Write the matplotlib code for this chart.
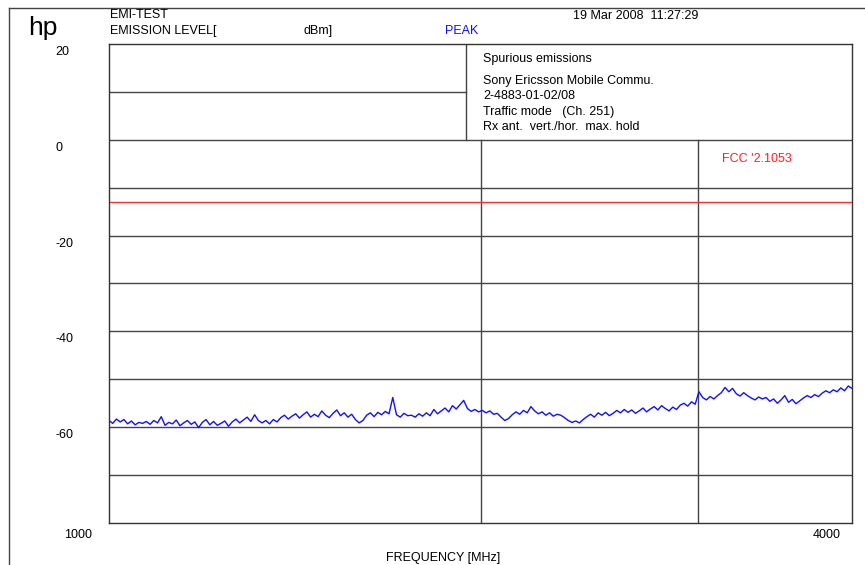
import matplotlib
matplotlib.use("Agg")
import matplotlib.pyplot as plt
from matplotlib.lines import Line2D
import numpy as np

plt.rcParams['font.family'] = ['Liberation Sans', 'DejaVu Sans']

level = [
    -58.6, -59.2, -58.3, -58.9, -58.4, -59.3, -58.7, -59.5, -59.0, -59.2,
    -58.8, -59.4, -58.6, -59.1, -57.8, -59.6, -59.0, -59.3, -58.5, -59.7,
    -59.1, -58.6, -59.4, -58.9, -60.1, -59.0, -58.4, -59.5, -58.8, -59.6,
    -59.2, -58.7, -59.8, -58.9, -58.3, -59.1, -58.5, -57.9, -58.8, -57.4, -58.6,
    -59.1, -58.6, -59.3, -58.4, -58.9,
    -58.0, -57.5, -58.3, -57.7, -57.2, -58.1, -57.4, -56.8, -57.9, -57.3,
    -57.8, -56.6, -57.5, -58.0, -57.1, -56.4, -57.6, -57.0, -57.9, -57.3,
    -58.4, -59.1, -58.6,
    -57.5, -57.0, -57.8, -56.9, -57.4, -56.7, -57.2,
    -53.8,
    -57.4, -57.9, -57.1, -57.6,
    -57.5, -57.9, -57.2, -57.7,
    -57.0, -57.6, -56.3, -57.2,
    -56.6, -56.0, -56.8, -55.5, -56.2, -55.3, -54.4,
    -56.1, -56.7, -56.3, -56.8,
    -56.5, -57.0, -56.6, -57.3, -57.1,
    -57.9, -58.6, -58.2,
    -57.4, -56.8, -57.3, -56.5, -57.0, -55.7, -56.6, -57.2,
    -56.8, -57.5, -57.0, -57.7, -57.3,
    -57.5, -58.0,
    -58.6, -59.0, -58.7, -59.1, -58.4,
    -57.8, -57.3, -57.9, -57.0, -57.5, -56.9, -57.6, -57.1,
    -56.5, -57.0, -56.3, -56.9, -56.4, -57.1, -56.6, -56.0, -56.8,
    -56.2, -55.7, -56.4, -55.5, -56.1, -56.6, -55.8, -56.3,
    -55.4, -55.0, -55.6, -54.7, -55.2,
    -52.6,
    -53.8, -54.3, -53.6, -54.1, -53.4,
    -52.8, -51.7, -52.6, -51.9,
    -53.0, -53.5, -52.8, -53.4,
    -53.9, -54.3, -53.7, -54.1, -53.8,
    -54.6, -54.1, -55.0, -54.3, -53.4, -54.8, -54.2, -55.1, -54.5,
    -53.9, -53.4, -53.8, -53.2, -53.6,
    -52.9, -52.4, -52.8, -52.2, -52.6, -51.8, -52.4, -51.4, -51.9,
]
f_start, f_stop = 1000, 4000
limit_dbm = -13
y_ticks = [20, 0, -20, -40, -60]
freq_lines = [2000, 3000]

info_lines = ["Sony Ericsson Mobile Commu.", "2-4883-01-02/08",
              "Traffic mode   (Ch. 251)", "Rx ant.  vert./hor.  max. hold"]

W, H = 865, 565
fig = plt.figure(figsize=(W / 100, H / 100), dpi=100)
ax = fig.add_axes([109 / W, 1 - 523 / H, (852 - 109) / W, (523 - 44) / H])

freq = np.geomspace(f_start, f_stop, len(level))
ax.set_xscale('log')
ax.set_xlim(f_start, f_stop)
ax.set_ylim(-80, 20)
ax.set_xticks([])
ax.set_yticks([])
ax.minorticks_off()
for s in ax.spines.values():
    s.set_color('#333333')
    s.set_linewidth(1.0)

gc = '#444444'
for yv in range(-70, 10, 10):
    ax.axhline(yv, color=gc, lw=1.0)
for fv in freq_lines:
    ax.plot([fv, fv], [-80, 0], color=gc, lw=1.0)

# header box (top decade)
box_x = (466 - 109) / (852 - 109)
tr = ax.get_yaxis_transform()
ax.plot([0, box_x], [10, 10], color=gc, lw=1.0, transform=tr)
ax.plot([box_x, box_x], [0, 20], color=gc, lw=1.0, transform=tr)

ax.axhline(limit_dbm, color='#ff3030', lw=1.0)
ax.plot(freq, level, color='#1010ff', lw=1.0)


def ftxt(x, y, s, **kw):
    kw.setdefault('fontsize', 9)
    kw.setdefault('va', 'center')
    fig.text(x / W, 1 - y / H, s, **kw)


for yv in y_ticks:
    ypx = 44 + (20 - yv) * 4.79 + 8
    ftxt(55, ypx, str(yv))

ftxt(28, 28, "hp", fontsize=19)
ftxt(110, 15, "EMI-TEST")
ftxt(110, 31, "EMISSION LEVEL[")
ftxt(304, 31, "dBm]")
ftxt(445, 31, "PEAK", color='#1010ff')
ftxt(573, 16, "19 Mar 2008  11:27:29")
ftxt(483, 59, "Spurious emissions")
for i, s in enumerate(info_lines):
    ftxt(483, 81 + i * 15.3, s)
ftxt(722, 159, "FCC '2.1053", color='#ff2020')
ftxt(78, 535, str(f_start), ha='center')
ftxt(827, 535, str(f_stop), ha='center')
ftxt(443, 558, "FREQUENCY [MHz]", ha='center')

# outer page frame
fig.add_artist(Line2D([9 / W, 9 / W], [0, 1 - 8 / H], color='#444444', lw=1.0))
fig.add_artist(Line2D([9 / W, 1], [1 - 8 / H, 1 - 8 / H], color='#444444', lw=1.0))

fig.savefig('out.png', dpi=100)
